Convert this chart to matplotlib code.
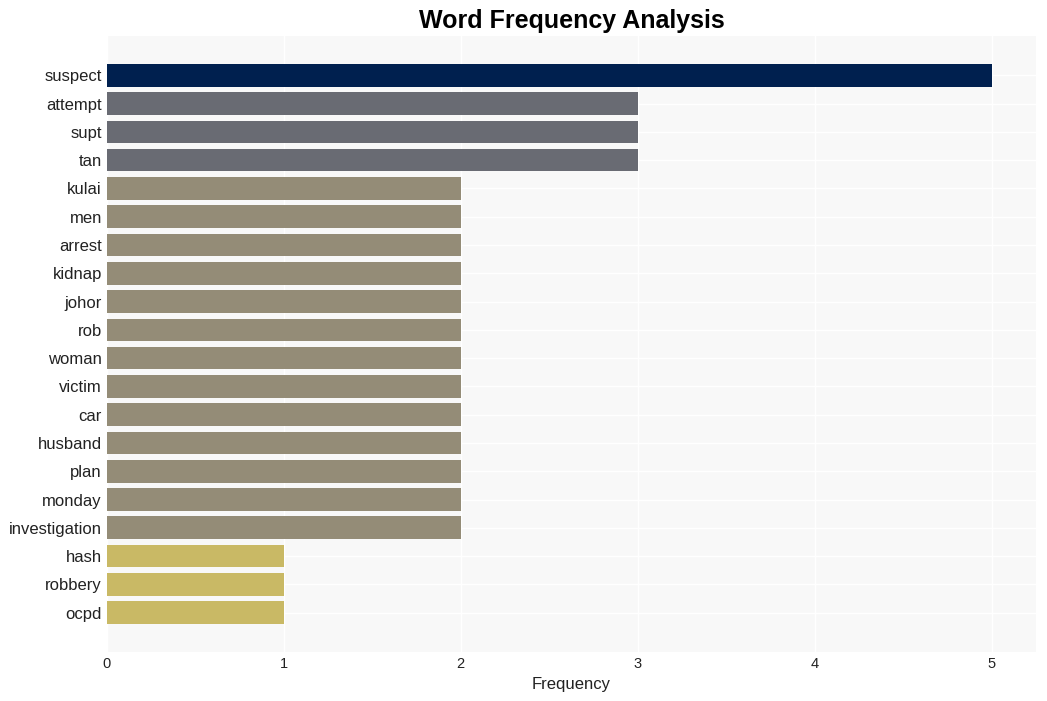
import matplotlib
matplotlib.use("Agg")
import matplotlib.pyplot as plt

words = ["suspect", "attempt", "supt", "tan", "kulai", "men", "arrest", "kidnap",
         "johor", "rob", "woman", "victim", "car", "husband", "plan", "monday",
         "investigation", "hash", "robbery", "ocpd"]
counts = [5, 3, 3, 3, 2, 2, 2, 2, 2, 2, 2, 2, 2, 2, 2, 2, 2, 1, 1, 1]

palette = {5: "#00204f", 3: "#696b73", 2: "#948c77", 1: "#c9b965"}
colors = [palette[c] for c in counts]

plt.rcParams["font.family"] = ["Liberation Sans", "DejaVu Sans"]

fig = plt.figure(figsize=(10.47, 7.01), dpi=100)
ax = fig.add_axes([0.102, 0.07, 0.8875, 0.8786])
ax.set_facecolor("#f8f8f8")

ypos = list(range(len(words)))
ax.barh(ypos, counts, color=colors, height=0.8, zorder=3)
ax.set_yticks(ypos)
ax.set_yticklabels(words)
ax.invert_yaxis()

ax.grid(True, color="white", linewidth=1, zorder=0)
ax.set_axisbelow(True)
for s in ax.spines.values():
    s.set_visible(False)
ax.tick_params(axis="y", length=0, labelsize=12, colors="#222222", pad=3.5)
ax.tick_params(axis="x", length=0, labelsize=10.5, colors="#222222", pad=4)

ax.set_xlabel("Frequency", fontsize=12, color="#222222", labelpad=4)
ax.set_title("Word Frequency Analysis", fontsize=18, fontweight="bold", pad=6)

fig.savefig("out.png", dpi=100)
